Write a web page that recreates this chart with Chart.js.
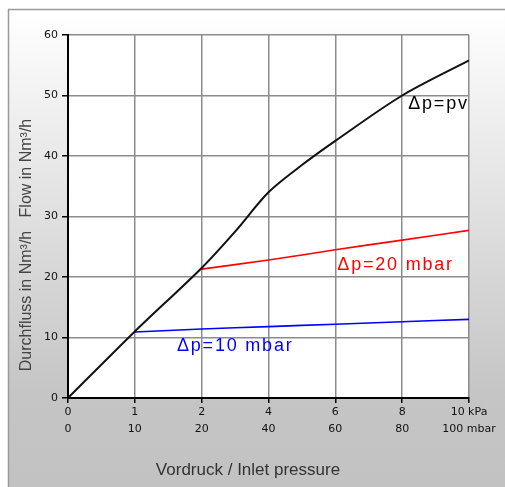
<!DOCTYPE html>
<html>
<head>
<meta charset="utf-8">
<script src="https://cdn.jsdelivr.net/npm/chart.js@4.4.0/dist/chart.umd.min.js"></script>
<style>
  html, body { margin: 0; padding: 0; background: #fff; }
  #wrap { width: 505px; height: 487px; }
</style>
</head>
<body>
<div id="wrap"><canvas id="myChart" width="505" height="487"></canvas></div>
<script>
// x axis: evenly spaced ticks, but not linear in pressure
const tickKpa = ["0", "1", "2", "4", "6", "8", "10 kPa"];
const tickMbar = ["0", "10", "20", "40", "60", "80", "100 mbar"];

// Δp = pv curve (kPa -> Nm³/h)
const pvKpa = [0, 1, 2, 3, 4, 5, 6, 8, 10];
const pvFlow = [0, 11, 21.5, 27.5, 34, 38.5, 42.5, 50, 55.8];

// Δp = 20 mbar
const dp20Kpa = [2, 4, 6, 8, 10];
const dp20Flow = [21.3, 22.8, 24.5, 26.1, 27.7];

// Δp = 10 mbar
const dp10Kpa = [1, 2, 4, 6, 8, 10];
const dp10Flow = [10.9, 11.4, 11.8, 12.2, 12.6, 13.0];

// position on the axis for a pressure in kPa
function pos(p) {
  return p <= 2 ? p : 1 + p / 2;
}
function toPoints(xs, ys) {
  return xs.map((p, i) => ({ x: pos(p), y: ys[i] }));
}

const ctx = document.getElementById("myChart");

const bgPlugin = {
  id: "bg",
  beforeDraw: function (chart) {
    const c = chart.ctx;
    c.save();
    c.fillStyle = "#ffffff";
    c.fillRect(0, 0, chart.width, chart.height);
    const g = c.createLinearGradient(0, 9, 0, chart.height);
    g.addColorStop(0, "#ffffff");
    g.addColorStop(0.8, "#c5c5c5");
    g.addColorStop(1, "#c2c2c2");
    c.fillStyle = g;
    c.fillRect(8, 9, chart.width, chart.height);
    c.strokeStyle = "#9a9a9a";
    c.lineWidth = 1.5;
    c.strokeRect(8.5, 9.5, chart.width + 10, chart.height + 10);
    // plot area is white
    const a = chart.chartArea;
    c.fillStyle = "#ffffff";
    c.fillRect(a.left, a.top, a.right - a.left, a.bottom - a.top);
    c.restore();
  },
  afterDraw: function (chart) {
    const c = chart.ctx;
    const x = chart.scales.x;
    const y = chart.scales.y;
    c.save();
    // curve labels
    c.font = "18px 'Liberation Sans', Arial, sans-serif";
    c.letterSpacing = "1.8px";
    c.textBaseline = "middle";
    c.textAlign = "left";
    c.fillStyle = "#000000";
    c.fillText("Δp=pv", x.getPixelForValue(5.09), y.getPixelForValue(48.6));
    c.fillStyle = "#ff0000";
    c.fillText("Δp=20 mbar", x.getPixelForValue(4.03), y.getPixelForValue(22.0));
    c.fillStyle = "#0000ff";
    c.fillText("Δp=10 mbar", x.getPixelForValue(1.63), y.getPixelForValue(8.6));
    c.letterSpacing = "0px";

    // axis titles
    c.fillStyle = "#333333";
    c.textAlign = "center";
    c.font = "17px 'Liberation Sans', Arial, sans-serif";
    c.fillText("Vordruck / Inlet pressure", 248, 470);

    c.translate(27, 245);
    c.rotate(-Math.PI / 2);
    c.font = "16px 'Liberation Sans', Arial, sans-serif";
    c.fillStyle = "#444444";
    c.fillText("Durchfluss in Nm³/h   Flow in Nm³/h", 0, 0);
    c.restore();
  },
};

const chart = new Chart(ctx, {
  type: "line",
  data: {
    datasets: [
      {
        label: "Δp=pv",
        data: toPoints(pvKpa, pvFlow),
        borderColor: "#111111",
        borderWidth: 2,
        tension: 0.3,
        pointRadius: 0,
      },
      {
        label: "Δp=20 mbar",
        data: toPoints(dp20Kpa, dp20Flow),
        borderColor: "#ff0000",
        borderWidth: 1.6,
        tension: 0.3,
        pointRadius: 0,
      },
      {
        label: "Δp=10 mbar",
        data: toPoints(dp10Kpa, dp10Flow),
        borderColor: "#0000ff",
        borderWidth: 1.6,
        tension: 0.3,
        pointRadius: 0,
      },
    ],
  },
  options: {
    responsive: false,
    animation: false,
    layout: {
      padding: { left: 0, top: 35, right: 36, bottom: 0 },
    },
    plugins: {
      legend: { display: false },
      tooltip: { enabled: false },
    },
    scales: {
      x: {
        type: "linear",
        min: 0,
        max: 6,
        afterFit: function (scale) {
          scale.height = 89;
        },
        ticks: {
          stepSize: 1,
          autoSkip: false,
          maxRotation: 0,
          padding: 1,
          color: "#111111",
          font: { family: "'DejaVu Sans', sans-serif", size: 11, lineHeight: 1.55 },
          callback: function (v) {
            return [tickKpa[v], tickMbar[v]];
          },
        },
        grid: {
          color: "#8c8c8c",
          lineWidth: 1.5,
          tickLength: 5,
          tickColor: "#000000",
        },
        border: { color: "#000000", width: 2 },
      },
      y: {
        min: 0,
        max: 60,
        afterFit: function (scale) {
          scale.width = 68;
        },
        ticks: {
          stepSize: 10,
          padding: 4,
          color: "#111111",
          font: { family: "'DejaVu Sans', sans-serif", size: 11 },
        },
        grid: {
          color: "#8c8c8c",
          lineWidth: 1.5,
          tickLength: 6,
          tickColor: "#000000",
        },
        border: { color: "#000000", width: 2 },
      },
    },
  },
  plugins: [bgPlugin],
});
</script>
</body>
</html>
